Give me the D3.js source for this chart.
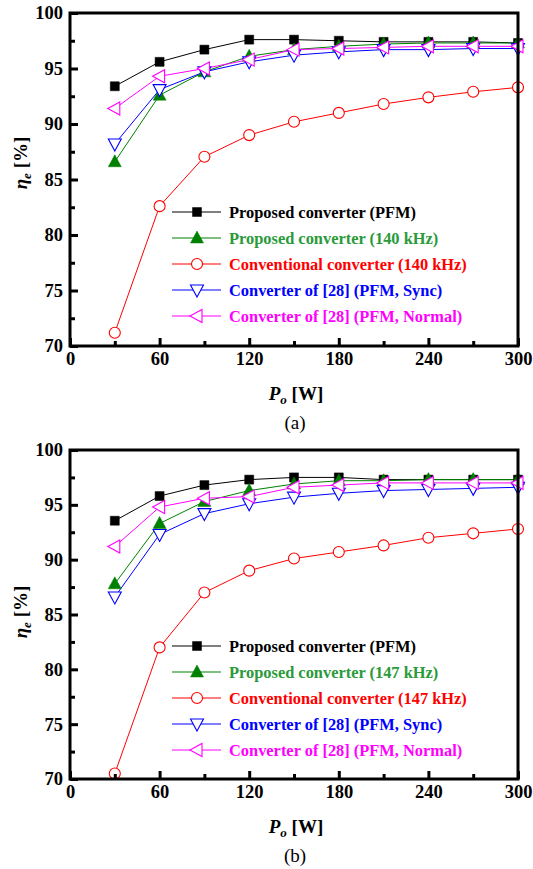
<!DOCTYPE html>
<html>
<head>
<meta charset="utf-8">
<script src="https://cdn.jsdelivr.net/npm/d3@7"></script>
<style>
  html, body { margin: 0; padding: 0; background: #fff; }
  svg { display: block; }
  svg text { font-family: "Liberation Serif", "Times New Roman", Times, "DejaVu Serif", serif !important; }
</style>
</head>
<body>
<div id="chart"></div>
<script>
"use strict";

// Output power (W) for every measured point
const powerW = [30, 60, 90, 120, 150, 180, 210, 240, 270, 300];
const xMajorTicks = [0, 60, 120, 180, 240, 300];
const xMinorTicks = [30, 90, 150, 210, 270];
const yMajorTicks = [70, 75, 80, 85, 90, 95, 100];
const yMinorTicks = [72.5, 77.5, 82.5, 87.5, 92.5, 97.5];

// Panel (a) efficiencies [%]
const aProposedPFM   = [93.4, 95.6, 96.7, 97.6, 97.6, 97.5, 97.4, 97.4, 97.4, 97.3];
const aProposedFixed = [86.6, 92.6, 94.7, 96.1, 96.7, 97.0, 97.2, 97.3, 97.3, 97.3];
const aConventional  = [71.2, 82.6, 87.05, 89.0, 90.2, 91.0, 91.8, 92.4, 92.9, 93.3];
const aRef28Sync     = [88.2, 93.1, 94.7, 95.6, 96.2, 96.5, 96.7, 96.7, 96.8, 96.8];
const aRef28Normal   = [91.4, 94.3, 95.0, 95.8, 96.7, 96.8, 96.9, 97.0, 97.0, 97.0];
const aLabels = ["Proposed converter (PFM)", "Proposed converter (140 kHz)",
  "Conventional converter (140 kHz)", "Converter of [28] (PFM, Sync)", "Converter of [28] (PFM, Normal)"];

// Panel (b) efficiencies [%]
const bProposedPFM   = [93.55, 95.8, 96.8, 97.3, 97.5, 97.5, 97.3, 97.3, 97.3, 97.3];
const bProposedFixed = [87.8, 93.3, 95.3, 96.3, 96.9, 97.2, 97.2, 97.3, 97.3, 97.3];
const bConventional  = [70.5, 82.0, 87.0, 89.0, 90.1, 90.7, 91.3, 92.0, 92.4, 92.8];
const bRef28Sync     = [86.6, 92.3, 94.2, 95.1, 95.7, 96.05, 96.3, 96.4, 96.5, 96.6];
const bRef28Normal   = [91.2, 94.8, 95.6, 95.75, 96.6, 96.8, 97.0, 97.0, 97.0, 97.0];
const bLabels = ["Proposed converter (PFM)", "Proposed converter (147 kHz)",
  "Conventional converter (147 kHz)", "Converter of [28] (PFM, Sync)", "Converter of [28] (PFM, Normal)"];

// style per series: colour, marker shape, filled or not
const styles = [
  {color: "#000000", text: "#000000", shape: "square", filled: true},
  {color: "#008000", text: "#2a9a3a", shape: "up", filled: true},
  {color: "#ff0000", text: "#ff0000", shape: "circle", filled: false},
  {color: "#0000ff", text: "#0000ff", shape: "down", filled: false},
  {color: "#ff00ff", text: "#ff00ff", shape: "left", filled: false}
];

const FONT = "Liberation Serif, Times New Roman, Times, serif";
const width = 533, height = 869;
const svg = d3.select("#chart").append("svg")
  .attr("width", width)
  .attr("height", height)
  .attr("font-family", FONT)
  .attr("viewBox", [0, 0, width, height]);

function markerPath(shape) {
  if (shape === "square") return "M-4.5,-4.5H4.5V4.5H-4.5Z";
  if (shape === "up") return "M0,-7L6.5,5H-6.5Z";
  if (shape === "down") return "M0,7L6.5,-5H-6.5Z";
  if (shape === "left") return "M-7,0L5,-6.5V6.5Z";
  return d3.symbol(d3.symbolCircle, 95)();
}

function drawPanel(opt) {
  const x = d3.scaleLinear([0, 300], [70, 518]);
  const y = d3.scaleLinear([70, 100], [opt.bottom, opt.top]);
  const g = svg.append("g").attr("font-family", FONT);

  // series lines + markers
  const line = d3.line().x((d, i) => x(powerW[i])).y(d => y(d));
  opt.series.forEach((vals, k) => {
    const s = styles[k];
    g.append("path")
      .attr("fill", "none")
      .attr("stroke", s.color)
      .attr("stroke-width", 1)
      .attr("d", line(vals));
  });
  opt.series.forEach((vals, k) => {
    const s = styles[k];
    g.append("g").selectAll("path")
      .data(vals)
      .enter()
      .append("path")
      .attr("transform", (d, i) => `translate(${x(powerW[i])},${y(d)})`)
      .attr("d", markerPath(s.shape))
      .attr("fill", s.filled ? s.color : "#fff")
      .attr("stroke", s.color)
      .attr("stroke-width", s.filled ? 0.5 : 1.1);
  });

  // axes with inward ticks
  const tickFont = a => a
    .attr("font-family", FONT)
    .selectAll("text")
    .attr("font-family", FONT)
    .attr("font-weight", "bold")
    .attr("font-size", 18.5)
    .attr("fill", "#000");

  g.append("g")
    .attr("transform", `translate(0,${opt.bottom})`)
    .call(d3.axisBottom(x).tickValues(xMajorTicks).tickSize(-8).tickPadding(6).tickFormat(d3.format("d")))
    .call(a => a.select(".domain").remove())
    .call(a => a.selectAll(".tick line").attr("stroke-width", 3))
    .call(tickFont);
  g.append("g")
    .attr("transform", `translate(0,${opt.bottom})`)
    .call(d3.axisBottom(x).tickValues(xMinorTicks).tickSize(-5).tickFormat(""))
    .call(a => a.select(".domain").remove())
    .call(a => a.selectAll(".tick line").attr("stroke-width", 3));

  g.append("g")
    .attr("transform", `translate(70,0)`)
    .call(d3.axisLeft(y).tickValues(yMajorTicks).tickSize(-8).tickPadding(7).tickFormat(d3.format("d")))
    .call(a => a.select(".domain").remove())
    .call(a => a.selectAll(".tick line").attr("stroke-width", 3))
    .call(tickFont);
  g.append("g")
    .attr("transform", `translate(70,0)`)
    .call(d3.axisLeft(y).tickValues(yMinorTicks).tickSize(-5).tickFormat(""))
    .call(a => a.select(".domain").remove())
    .call(a => a.selectAll(".tick line").attr("stroke-width", 3));

  // frame
  g.append("rect")
    .attr("x", x(0))
    .attr("y", y(100))
    .attr("width", x(300) - x(0))
    .attr("height", y(70) - y(100))
    .attr("fill", "none")
    .attr("stroke", "#000")
    .attr("stroke-width", 3);

  // legend
  opt.labels.forEach((label, k) => {
    const s = styles[k];
    const ly = opt.legendTop + k * 26;
    g.append("line")
      .attr("x1", 172).attr("x2", 221)
      .attr("y1", ly).attr("y2", ly)
      .attr("stroke", s.color)
      .attr("stroke-width", 1.2);
    g.append("path")
      .attr("transform", `translate(197,${ly})`)
      .attr("d", markerPath(s.shape))
      .attr("fill", s.filled ? s.color : "#fff")
      .attr("stroke", s.color)
      .attr("stroke-width", s.filled ? 0.5 : 1.1);
    g.append("text")
      .attr("x", 229)
      .attr("y", ly)
      .attr("dy", "0.34em")
      .attr("font-weight", "bold")
      .attr("font-size", 16.4)
      .attr("fill", s.text)
      .text(label);
  });

  // y title
  const yt = g.append("text")
    .attr("transform", `translate(27,${opt.yTitleY}) rotate(-90)`)
    .attr("text-anchor", "middle")
    .attr("font-size", 19)
    .attr("font-weight", "bold");
  yt.append("tspan").attr("font-style", "italic").text("η");
  yt.append("tspan").attr("font-style", "italic").attr("font-size", 13).attr("dy", 4).text("e");
  yt.append("tspan").attr("dy", -4).text(" [%]");

  // x title
  const xt = g.append("text")
    .attr("x", 296)
    .attr("y", opt.bottom + 54)
    .attr("text-anchor", "middle")
    .attr("font-size", 19)
    .attr("font-weight", "bold");
  xt.append("tspan").attr("font-style", "italic").text("P");
  xt.append("tspan").attr("font-style", "italic").attr("font-size", 13).attr("dy", 4).text("o");
  xt.append("tspan").attr("dy", -4).text(" [W]");

  g.append("text")
    .attr("x", 295)
    .attr("y", opt.bottom + 83)
    .attr("text-anchor", "middle")
    .attr("font-size", 19)
    .text(opt.caption);
}

drawPanel({
  top: 13, bottom: 346, legendTop: 212, yTitleY: 163, caption: "(a)", labels: aLabels,
  series: [aProposedPFM, aProposedFixed, aConventional, aRef28Sync, aRef28Normal]
});
drawPanel({
  top: 450, bottom: 779, legendTop: 646, yTitleY: 612, caption: "(b)", labels: bLabels,
  series: [bProposedPFM, bProposedFixed, bConventional, bRef28Sync, bRef28Normal]
});
</script>
</body>
</html>
